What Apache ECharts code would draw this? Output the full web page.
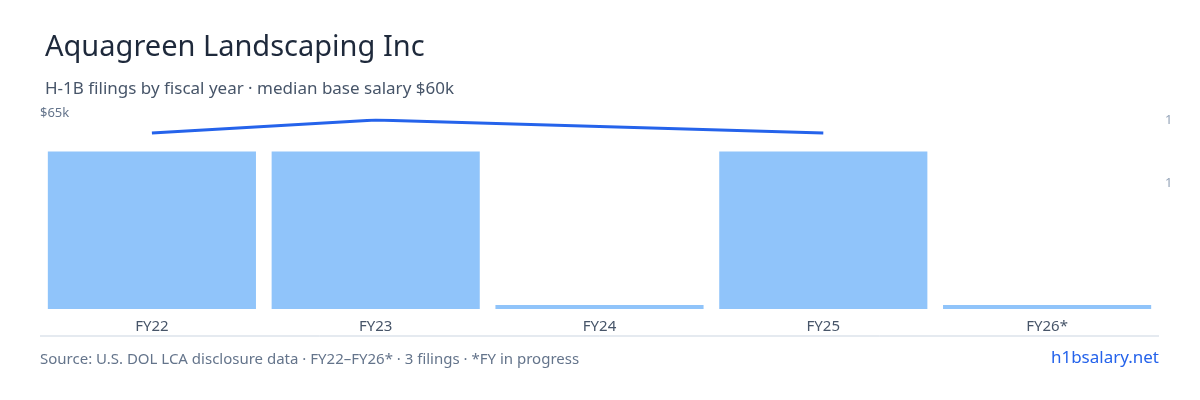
<!DOCTYPE html><html><head><meta charset="utf-8"><script src="https://cdn.jsdelivr.net/npm/echarts@6/dist/echarts.min.js"></script>
<style>body{margin:0}#c{width:1200px;height:400px}</style></head><body><div id="c"></div><script>
const categories=['FY22','FY23','FY24','FY25','FY26*'];
const filings=[1,1,0,1,0];
const salary=[60500,65000,null,60500,null];
const chart=echarts.init(document.getElementById('c'));
const F='"Noto Sans", sans-serif';
chart.setOption({
 animation:false,
 title:[{text:'Aquagreen Landscaping Inc',left:40,top:28,textStyle:{fontFamily:F,fontSize:29,fontWeight:'normal',color:'#1e293b'}},
  {text:'H-1B filings by fiscal year · median base salary $60k',left:40,top:76,textStyle:{fontFamily:F,fontSize:17,fontWeight:'normal',color:'#475569'}}],
 graphic:[{type:'line',shape:{x1:40,y1:336,x2:1159,y2:336},style:{stroke:'#cbd5e1',lineWidth:1}},
  {type:'text',left:40,top:352,style:{text:'Source: U.S. DOL LCA disclosure data · FY22–FY26* · 3 filings · *FY in progress',fontFamily:F,fontSize:15,fill:'#64748b'}},
  {type:'text',right:41,top:350,style:{text:'h1bsalary.net',fontFamily:F,fontSize:17,fill:'#2563eb'}}],
 grid:{left:40,right:41,top:120,bottom:91},
 xAxis:{type:'category',data:categories,axisLine:{show:false},axisTick:{show:false},axisLabel:{fontFamily:F,fontSize:15,color:'#475569',margin:10}},
 yAxis:[{type:'value',min:0,max:65000,interval:65000,splitLine:{show:false},axisLabel:{inside:true,verticalAlign:'bottom',margin:0,fontFamily:F,fontSize:13,color:'#64748b',formatter:v=>v>0?'$'+v/1000+'k':''}},
  {type:'value',min:0,max:1.2,interval:0.4,splitLine:{show:false},axisLabel:{fontFamily:F,fontSize:13,color:'#94a3b8',margin:6,formatter:v=>v>0.5?String(Math.round(v)):''}}],
 series:[{type:'bar',yAxisIndex:1,data:filings,barCategoryGap:'7%',barMinHeight:4,itemStyle:{color:'#90c4fa'}},
  {type:'line',yAxisIndex:0,data:salary,connectNulls:true,symbol:'none',lineStyle:{color:'#2563eb',width:3}}]
});
</script></body></html>
